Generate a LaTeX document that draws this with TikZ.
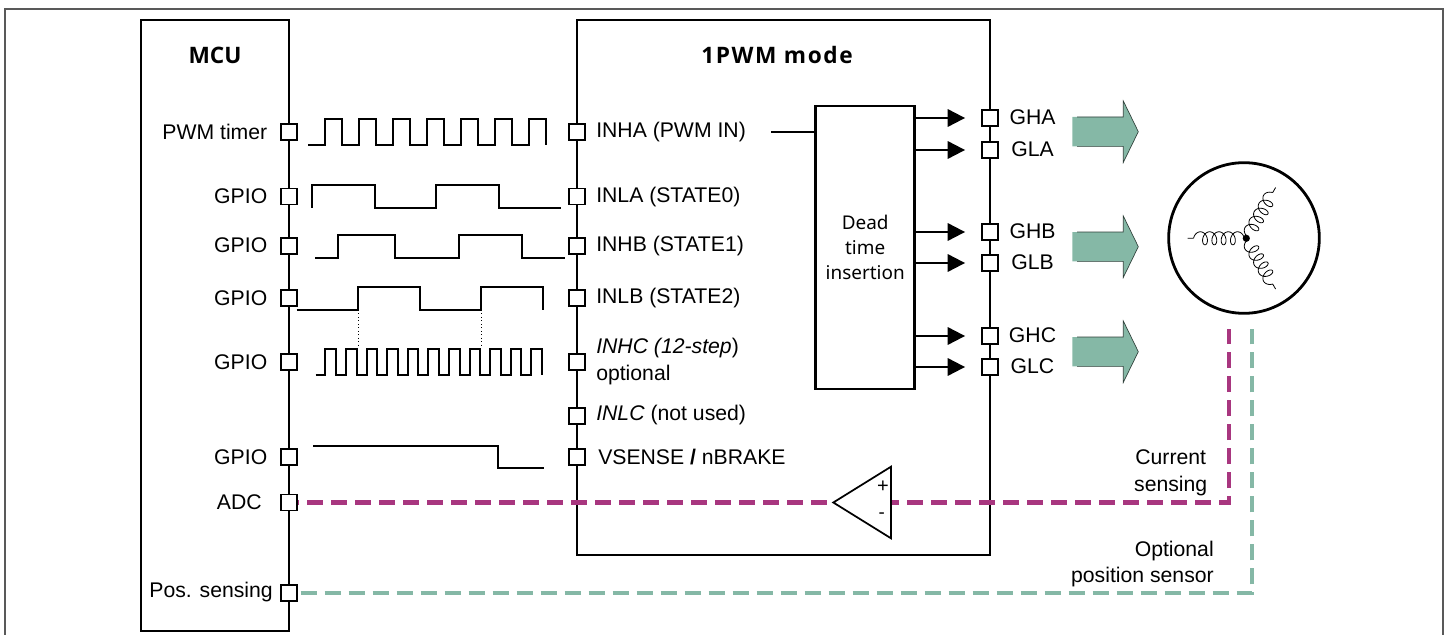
\documentclass[tikz,border=0pt]{standalone}
\usepackage{fontspec}
\setmainfont{Liberation Sans}
\newfontfamily\notofont{Noto Sans}
\newfontfamily\titlefont{Open Sans}[BoldFont={Open Sans Bold}]
\usepackage{tikz}
\usetikzlibrary{arrows.meta}

\definecolor{sensecolor}{HTML}{A8367F}
\definecolor{posgreen}{HTML}{85B8A6}

\tikzset{
    frameline/.style={draw=black!65, line width=1.1pt},
    block/.style={draw=black, line width=2.1pt, fill=white, inner sep=0pt},
    pinbox/.style={draw=black, line width=1.4pt, fill=white, minimum size=12pt, inner sep=0pt},
    pintext/.style={font=\fontsize{15.9}{20}\selectfont, inner sep=0pt},
    titletext/.style={font=\titlefont\bfseries\fontsize{17}{20}\selectfont, inner sep=0pt},
    wave/.style={line width=1.5pt, line join=miter},
    gatearrow/.style={line width=1.6pt, -{Triangle[length=13pt,width=13pt]}, shorten >=12pt},
    dashline/.style={line width=3.1pt, dash pattern=on 12pt off 6pt},
    phasearrow/.style={fill=posgreen, draw=none},
    phasecoil/.pic={
        \draw[line width=0.6pt] (-58.6,0) -- (-52.9,0)
            plot[domain=-270:1350, samples=260, smooth] ({-41.3+9.3*\x/360-4.5*sin(\x)},{6.5*cos(\x)});
    },
}

\begin{document}
\begin{tikzpicture}[x=0.75pt,y=-0.75pt]

\useasboundingbox (0,0) rectangle (1450,635);
\draw[frameline] (5,635) -- (5,9) -- (1443,9) -- (1443,635);

\node[block, minimum width=111pt, minimum height=458.25pt] (mcu) at (215,325.5) {};
\node[block, minimum width=309.75pt, minimum height=401.25pt] (drv) at (783.5,287.5) {};

\node[titletext] (mcutitle) at (215,55) {MCU};
\node[titletext] (drvtitle) at (777,55) {\addfontfeature{LetterSpace=7}1PWM mode};

% pins of the MCU
\foreach \i/\y in {0/132,1/196.5,2/245.7,3/298,4/361.7,5/457,6/502.5,7/593}
    \node[pinbox] (m\i) at (289,\y) {};

\foreach \y/\i in {132/PWM timer,196.5/GPIO,245.7/GPIO,298/GPIO,361.7/GPIO,457/GPIO}
    \node[pintext, anchor=east] at (267.5,\y) {\i};
\node[pintext, anchor=east] (adclabel) at (262,502) {ADC};
\node[pintext, anchor=east] (poslabel) at (273,592.5) {Pos. sensing};

% pins of the driver
\foreach \i/\y in {0/132,1/196.5,2/245.7,3/298,4/361.7,5/416,6/457}
    \node[pinbox] (d\i) at (577,\y) {};

\node[pintext, anchor=west] (inha) at (596,132) {INHA (PWM IN)};
\node[pintext, anchor=west] (inla) at (596,197) {INLA (STATE0)};
\node[pintext, anchor=west] (inhb) at (596,246) {INHB (STATE1)};
\node[pintext, anchor=west] (inlb) at (596,298) {INLB (STATE2)};
\node[pintext, anchor=west, align=left] (inhc) at (596,361.5) {\textit{INHC (12-step})\\optional};
\node[pintext, anchor=west] (inlc) at (596,415.5) {\textit{INLC} (not used)};
\node[pintext, anchor=west] (vsense) at (598,457) {VSENSE \textbf{/} nBRAKE};

% dead time block and gate outputs
\node[block, minimum width=74.25pt, minimum height=212.25pt, align=center,
      font=\notofont\fontsize{14.2}{19}\selectfont] (dead) at (865.2,247.5) {Dead\\time\\insertion};
\coordinate (deadin) at (771,132);
\draw[line width=1.7pt] (deadin) -- (deadin -| dead.west);

\foreach \i/\y/\n in {0/118/GHA,1/150/GLA,2/232/GHB,3/263/GLB,4/336/GHC,5/367/GLC} {
    \node[pinbox] (g\i) at (990,\y) {};
    \node[pintext] at (1032.5,\y-0.5) {\n};
    \draw[gatearrow] (g\i -| dead.east) -- (g\i.west);
}

% phase arrows
\foreach \y in {131.7,246.7,351.7} {
    \fill[phasearrow] (1072.3,\y-14.7) -- (1123.3,\y-14.7) -- (1123.3,\y-30.7) -- (1138.3,\y) -- (1123.3,\y+30.7) -- (1123.3,\y+14.7) -- (1072.3,\y+14.7) -- cycle;
    \draw[line width=0.5pt, draw=black!65!posgreen] (1077,\y-14.7) -- (1123.3,\y-14.7) -- (1123.3,\y-30.7) -- (1138.3,\y) -- (1123.3,\y+30.7) -- (1123.3,\y+14.7) -- (1077,\y+14.7);
}

% waveforms
\draw[wave] (308,145.3) foreach \x in {325,359,393,427,461,495,529} {-- (\x,145.3) -- (\x,119.3) -- (\x+17,119.3) -- (\x+17,145.3)};
\draw[wave] (312,207.7) -- (312,185.3) -- (375,185.3) -- (375,207.7) -- (436.3,207.7) -- (436.3,185.3) -- (499.3,185.3) -- (499.3,207.7) -- (561,207.7);
\draw[wave] (315,257.7) -- (338.3,257.7) -- (338.3,235) -- (395,235) -- (395,257.7) -- (458.7,257.7) -- (458.7,235) -- (522.3,235) -- (522.3,257.7) -- (565,257.7);
\draw[wave] (296.7,310) -- (358.3,310) -- (358.3,287.3) -- (420,287.3) -- (420,310) -- (481,310) -- (481,287.3) -- (542.7,287.3) -- (542.7,310);
\draw[wave] (315.7,374.7) foreach \i in {0,...,10} {-- (325.3+20.6*\i,374.7) -- (325.3+20.6*\i,348.7) -- (335.9+20.6*\i,348.7) -- (335.9+20.6*\i,374.7)};
\draw[wave] (313.3,446) -- (498.3,446) -- (498.3,468.3) -- (544.3,468.3);
\draw[dotted, line width=0.6pt] (358.3,310) -- (358.3,346);
\draw[dotted, line width=0.6pt] (481,310) -- (481,346);

% motor
\node[draw=black, line width=2.1pt, circle, minimum size=113pt, inner sep=0pt] (motor) at (1244,238) {};
\node[fill=black, circle, minimum size=5.4pt, inner sep=0pt] (star) at (1246.3,238.3) {};
\pic at (star.center) {phasecoil};
\pic[rotate=120] at (star.center) {phasecoil};
\pic[rotate=-120, yscale=-1] at (star.center) {phasecoil};

% sensing lines
\coordinate (cscorner) at (1229,502.5);
\coordinate (csend) at (1229,329);
\coordinate (poscorner) at (1252,593);
\coordinate (posend) at (1252,329);
\draw[dashline, draw=sensecolor, dash phase=10.9pt] (m6.east) -- (cscorner) -- (csend);
\draw[dashline, draw=posgreen, line width=2.9pt] ([xshift=2pt]m7.east) -- (poscorner) -- (posend);

% current sense amplifier
\coordinate (amptip) at (833.3,502.5);
\coordinate (amptop) at (891,466.7);
\coordinate (ampbot) at (891,538.3);
\draw[line width=1.3pt, fill=white] (amptip) -- (amptop) -- (ampbot) -- cycle;
\node[inner sep=0pt, font=\fontsize{15}{15}\selectfont] (ampplus) at (883,487) {+};
\node[inner sep=0pt, font=\fontsize{14}{14}\selectfont] (ampminus) at (881.6,516) {-};

\node[pintext, align=center] (cslabel) at (1170.7,472.5) {Current\\sensing};
\node[pintext, align=right, anchor=east] (poslabelb) at (1214,564) {Optional\\position sensor};

\end{tikzpicture}
\end{document}
